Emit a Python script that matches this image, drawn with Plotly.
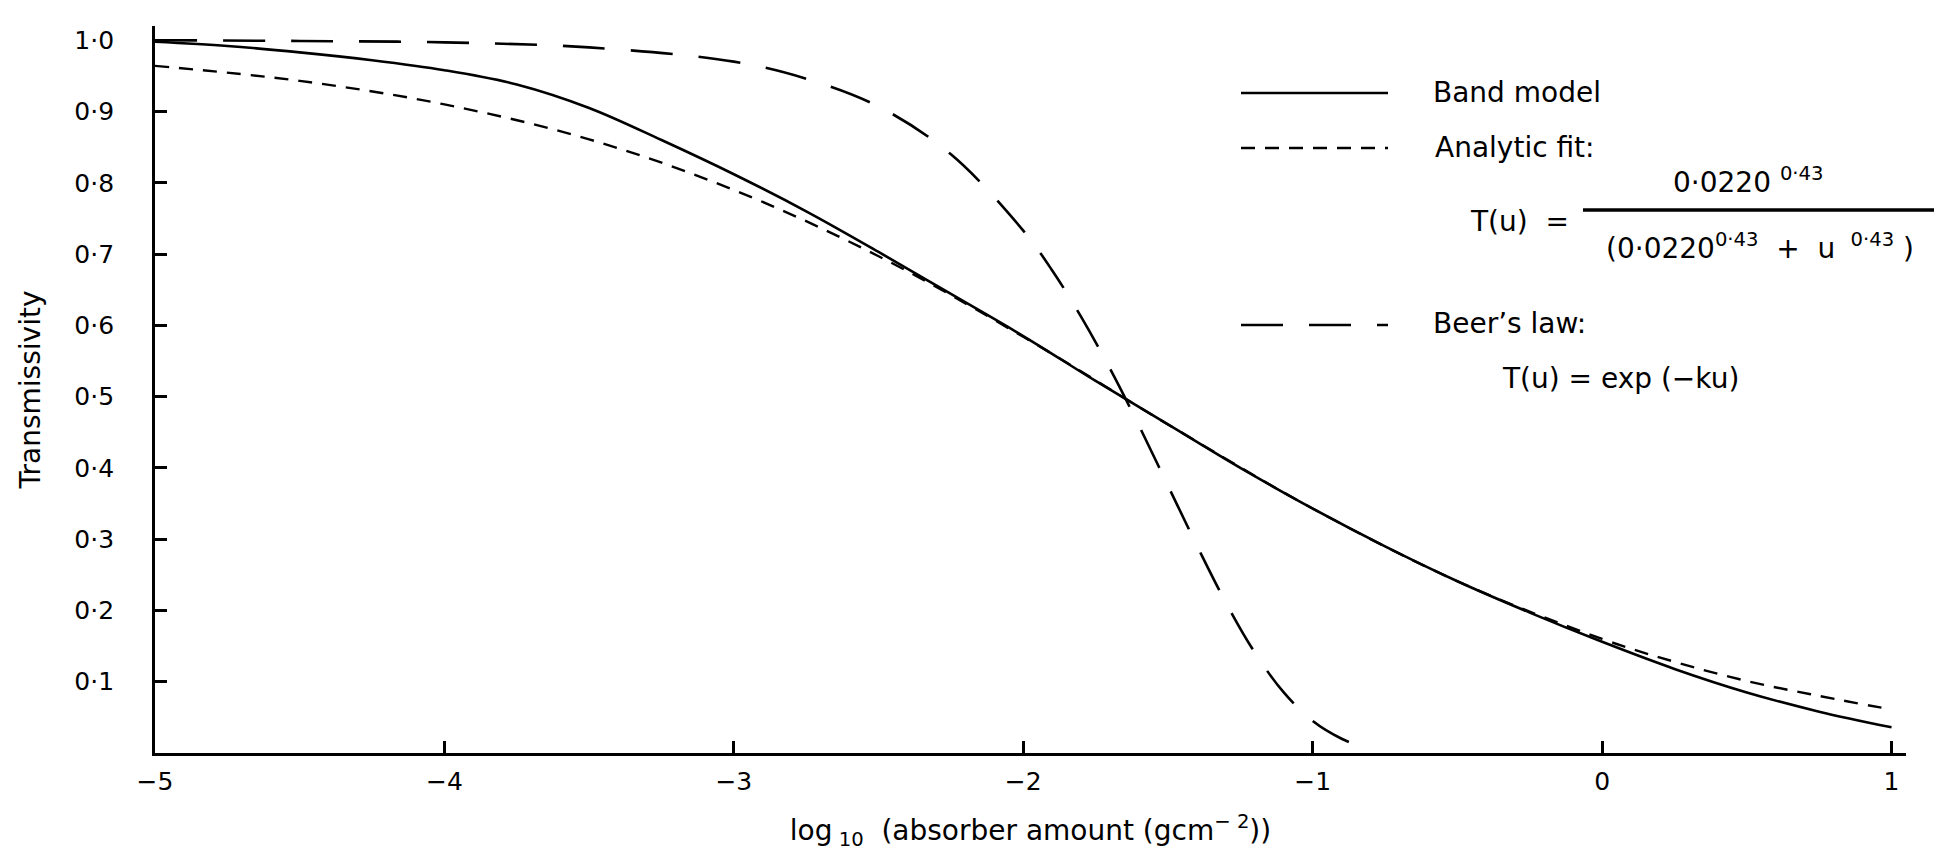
import plotly.graph_objects as go

# ---------------- data ----------------
band_x = [-5.0, -4.75, -4.5, -4.25, -4.0, -3.75, -3.5, -3.25, -3.0, -2.75, -2.5, -2.25,
          -2.0, -1.75, -1.5, -1.25, -1.0, -0.75, -0.5, -0.25, 0.0, 0.25, 0.5, 0.75, 1.0]
band_y = [0.998, 0.992, 0.983, 0.972, 0.958, 0.938, 0.905, 0.860, 0.812, 0.760, 0.703, 0.644,
          0.585, 0.522, 0.461, 0.400, 0.343, 0.290, 0.241, 0.197, 0.156, 0.118, 0.085, 0.058, 0.036]

fit_x = [-5.0, -4.5, -4.0, -3.5, -3.0, -2.5, -2.0, -1.5, -1.0, -0.5, 0.0, 0.25, 0.5, 0.75, 1.0]
fit_y = [0.964, 0.943, 0.910, 0.861, 0.790, 0.697, 0.584, 0.461, 0.343, 0.241, 0.160, 0.128,
         0.101, 0.080, 0.061]

beer_x = [-5.0, -4.5, -4.0, -3.5, -3.0, -2.75, -2.5, -2.25, -2.0, -1.9, -1.8, -1.7, -1.6,
          -1.5, -1.4, -1.3, -1.2, -1.1, -1.0, -0.9, -0.8]
beer_y = [1.000, 0.999, 0.997, 0.990, 0.970, 0.946, 0.907, 0.840, 0.733, 0.677, 0.612, 0.539,
          0.459, 0.375, 0.291, 0.211, 0.141, 0.085, 0.045, 0.020, 0.004]

x_ticks = [-5, -4, -3, -2, -1, 0, 1]
x_tick_labels = ["\u22125", "\u22124", "\u22123", "\u22122", "\u22121", "0", "1"]
y_ticks = [0.1, 0.2, 0.3, 0.4, 0.5, 0.6, 0.7, 0.8, 0.9, 1.0]
y_tick_labels = ["0\u00b71", "0\u00b72", "0\u00b73", "0\u00b74", "0\u00b75",
                 "0\u00b76", "0\u00b77", "0\u00b78", "0\u00b79", "1\u00b70"]

# ---------------- layout geometry ----------------
W, H = 1945, 856
L, R, T, B = 147, 47, 18, 111
PW, PH = W - L - R, H - T - B
FONT = "DejaVu Sans, Verdana, sans-serif"
NB = "\u00a0"


def px(xp):
    return (xp - L) / PW


def py(yp):
    return (H - B - yp) / PH


fig = go.Figure()
fig.add_trace(go.Scatter(x=fit_x, y=fit_y, mode="lines", name="Analytic fit",
                         line=dict(color="black", width=2.4, dash="14px,10px", shape="spline"),
                         showlegend=False))
fig.add_trace(go.Scatter(x=band_x, y=band_y, mode="lines", name="Band model",
                         line=dict(color="black", width=2.6, shape="spline"),
                         showlegend=False))
fig.add_trace(go.Scatter(x=beer_x, y=beer_y, mode="lines", name="Beer's law",
                         line=dict(color="black", width=2.6, dash="42px,26px", shape="spline"),
                         showlegend=False))

# legend samples
shapes = []
for yy, dash in [(85, "solid"), (140, "14px,10px"), (317, "42px,26px")]:
    shapes.append(dict(type="line", xref="paper", yref="paper",
                       x0=px(1233), x1=px(1380), y0=py(yy), y1=py(yy),
                       line=dict(color="black", width=2.6, dash=dash)))
# fraction bar
shapes.append(dict(type="line", xref="paper", yref="paper",
                   x0=px(1575), x1=px(1926), y0=py(202), y1=py(202),
                   line=dict(color="black", width=3.5)))

ann = []


def add_text(text, xp, yp, size=28, xanchor="left"):
    ann.append(dict(text=text, x=px(xp), y=py(yp), xref="paper", yref="paper",
                    showarrow=False, xanchor=xanchor, yanchor="middle",
                    font=dict(family=FONT, size=size, color="black")))


add_text("Band model", 1423, 85)
add_text("Analytic fit:", 1425, 140)
add_text("0\u00b70220" + NB + "<sup>0\u00b743</sup>", 1740, 172, xanchor="center")
add_text("T(u)" + NB * 2 + "=", 1460, 213)
add_text("(0\u00b70220<sup>0\u00b743</sup>" + NB * 2 + "+" + NB * 2 + "u" + NB
         + "<sup>" + NB + "0\u00b743</sup>" + NB + ")", 1752, 238, xanchor="center")
add_text("Beer\u2019s law:", 1423, 315)
add_text("T(u) = exp (\u2212ku)", 1492, 370)

fig.update_layout(
    width=W, height=H,
    margin=dict(l=L, r=R, t=T, b=B),
    paper_bgcolor="white", plot_bgcolor="white",
    font=dict(family=FONT, size=25, color="black"),
    shapes=shapes, annotations=ann,
    xaxis=dict(range=[-5, 1.05], showline=True, linecolor="black", linewidth=2.8,
               showgrid=False, zeroline=False, tickmode="array", tickvals=x_ticks,
               ticktext=x_tick_labels, ticks="inside", ticklen=12, tickwidth=2.5,
               tickcolor="black", tickfont=dict(family=FONT, size=25), ticklabelstandoff=4,
               title=dict(text="log<sub>" + NB + "10</sub>" + NB * 2
                          + "(absorber amount (gcm<sup>\u2212" + NB + "2</sup>))",
                          font=dict(family=FONT, size=28), standoff=26)),
    yaxis=dict(range=[0, 1.02], showline=True, linecolor="black", linewidth=2.8,
               showgrid=False, zeroline=False, tickmode="array", tickvals=y_ticks,
               ticktext=y_tick_labels, ticks="inside", ticklen=12, tickwidth=2.5,
               tickcolor="black", tickfont=dict(family=FONT, size=25), ticklabelstandoff=33,
               title=dict(text="Transmissivity", font=dict(family=FONT, size=28), standoff=26)),
)

fig.write_html("out.html")
